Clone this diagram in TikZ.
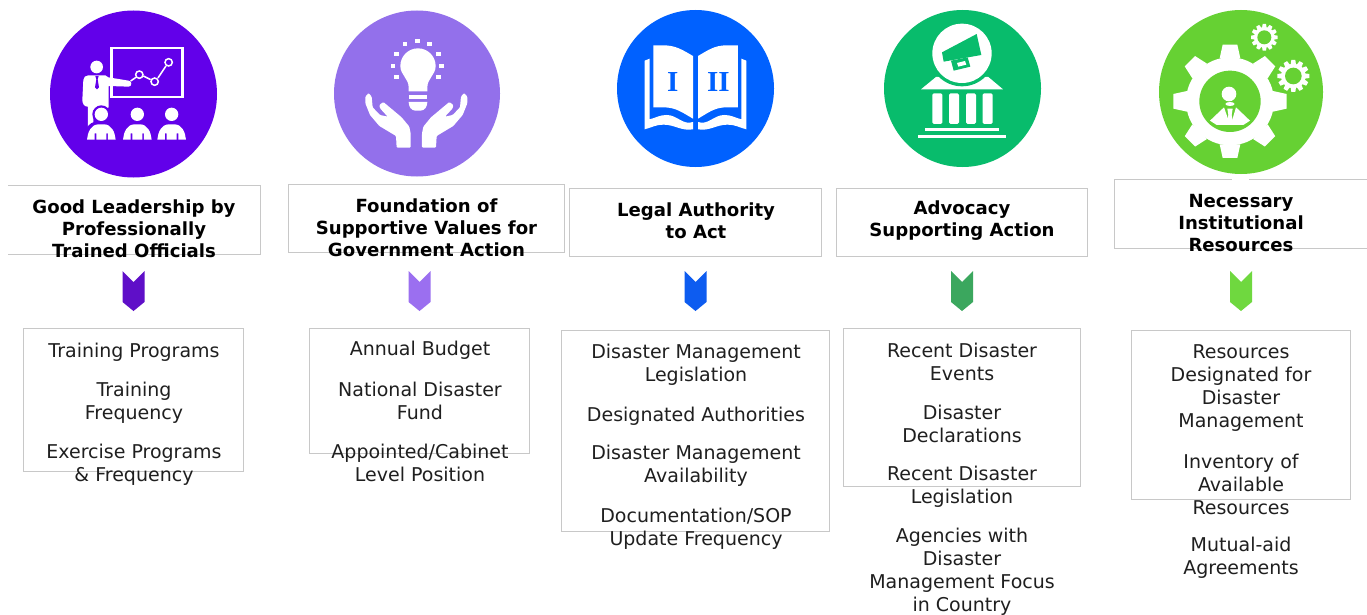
\documentclass[tikz,border=0pt]{standalone}
\usepackage{fontspec}
\setmainfont{DejaVu Sans}
\newfontfamily\romfont{Liberation Serif}
\definecolor{cA}{HTML}{6200EA}
\definecolor{cB}{HTML}{9370EB}
\definecolor{cC}{HTML}{0061FF}
\definecolor{cD}{HTML}{08BC6C}
\definecolor{cE}{HTML}{66D133}
\definecolor{chA}{HTML}{5F0FC8}
\definecolor{chB}{HTML}{9B6FF0}
\definecolor{chC}{HTML}{0D5CF0}
\definecolor{chD}{HTML}{3BA75E}
\definecolor{chE}{HTML}{6FD83F}
\definecolor{edgegray}{HTML}{C8C8C8}
\tikzset{
  headbox/.style={draw=edgegray,line width=0.9pt,fill=white},
  openbox/.style={draw=none,fill=white},
  edgeline/.style={draw=edgegray,line width=0.9pt},
  listbox/.style={draw=edgegray,line width=0.9pt,fill=white},
  headtext/.style={font=\fontsize{18.1}{22}\selectfont\bfseries,align=center,inner sep=0,text=black},
  itemtext/.style={font=\fontsize{19}{23}\selectfont,align=center,inner sep=0,text=black!88},
}
% chevron: #1 centre x, #2 colour
\newcommand{\chev}[2]{\fill[#2] (#1-11,271) -- (#1,282) -- (#1+11,271) -- (#1+11,302) -- (#1,311) -- (#1-11,302) -- cycle;}
% gear: #1 centre, #2 outer radius, #3 body radius, #4 hole radius, #5 teeth, #6 half width of tooth at tip, #7 half width at base, #8 hole colour
\newcommand{\mygear}[8]{%
  \fill[white] #1 circle (#3);
  \foreach \ga in {1,...,#5}{
    \fill[white,shift={#1},rotate=360/#5*\ga] (#7,{-(#3-3)}) -- (#6,-#2) -- (-#6,-#2) -- (-#7,{-(#3-3)}) -- cycle;
  }
  \fill[#8] #1 circle (#4);
}
\newcommand{\openhand}{\fill[white,rounded corners=1pt] (272,443) -- (230,443) -- (228,408) -- (178,378) -- (150,345) -- (136,310) -- (136,290) -- (146,279) -- (155,290) -- (158,322) -- (180,345) -- (203,350) -- (180,325) -- (178,315) -- (190,306) -- (245,352) -- (268,380) -- (272,400) -- cycle;}
\begin{document}
\begin{tikzpicture}[x=1pt,y=-1pt]
\useasboundingbox (0,0) rectangle (1367,615);
\fill[white] (0,0) rectangle (1367,615);

% circles
\node[circle,fill=cA,minimum size=167pt,inner sep=0] (circA) at (133.5,94) {};
\node[circle,fill=cB,minimum size=166pt,inner sep=0] (circB) at (417,93.5) {};
\node[circle,fill=cC,minimum size=157pt,inner sep=0] (circC) at (695.5,88.5) {};
\node[circle,fill=cD,minimum size=157pt,inner sep=0] (circD) at (962.5,88.5) {};
\node[circle,fill=cE,minimum size=164pt,inner sep=0] (circE) at (1241,92) {};

% icon 1
\begin{scope}[shift={(30,0)},x=0.3333pt,y=-0.3333pt]
  \draw[white,line width=2.6pt] (244,144) rectangle (457,291);
  \draw[white,line width=1.5pt] (302,243) -- (318,232) (340,228) -- (362,239) (384,234) -- (408,198);
  \draw[white,line width=1.5pt] (328,224) circle (11) (374,245) circle (11) (416,187) circle (11);
  \fill[white] (200,201) circle (19);
  \fill[white] (175,226) -- (226,226) -- (235,232) -- (296,242) to[out=0,in=0,looseness=1.5] (296,260) -- (236,258) -- (236,322) -- (190,345) -- (190,372) -- (174,385) -- (174,320) -- (172,320) to[out=180,in=-90] (157,300) -- (160,240) to[out=90,in=180] cycle;
  \fill[cA] (196,228) -- (206,228) -- (203,238) -- (207,262) -- (201,268) -- (195,262) -- (199,238) -- cycle;
  \foreach \hx in {214,322,425}{
    \fill[cA] (\hx,343) circle (27);
    \fill[cA] (\hx-50,425) -- (\hx-48,395) to[out=80,in=180] (\hx,362) to[out=0,in=100] (\hx+50,395) -- (\hx+50,425) -- cycle;
    \fill[white] (\hx,343) circle (20);
    \fill[white] (\hx-43,419) to[out=85,in=180] (\hx-8,373) -- (\hx+8,373) to[out=0,in=95] (\hx+43,419) -- (\hx+20,419) -- (\hx+20,400) -- (\hx+15,400) -- (\hx+15,419) -- (\hx-15,419) -- (\hx-15,400) -- (\hx-20,400) -- (\hx-20,419) -- cycle;
  }
\end{scope}

% icon 2
\begin{scope}[shift={(320,0)},x=0.3333pt,y=-0.3333pt]
  \fill[white] (294,145) to[out=180,in=90] (241,198) to[out=-90,in=90] (266,262) -- (266,274) -- (322,274) -- (322,262) to[out=90,in=-90] (347,198) to[out=90,in=0] cycle;
  \fill[white] (266,285) rectangle (322,296);
  \fill[white] (266,306) -- (322,306) to[out=-90,in=0] (302,332) -- (286,332) to[out=180,in=-90] cycle;
  \foreach \dx/\dy in {292/122,329/132,355/161,364/197,355/232,255/132,229/161,219/197,229/232}{
    \fill[white] (\dx-7,\dy-6) rectangle (\dx+7,\dy+6);
  }
  \openhand
  \begin{scope}[shift={(578,0)},xscale=-1]
    \openhand
  \end{scope}
\end{scope}

% icon 3
\begin{scope}[shift={(610,0)},x=0.3333pt,y=-0.3333pt]
  \fill[white] (130,136) -- (160,136) to[out=0,in=150] (249,168) -- (249,356) to[out=150,in=0] (160,322) -- (130,322) -- cycle;
  \fill[white] (264,168) to[out=30,in=180] (350,136) -- (384,136) -- (384,322) -- (350,322) to[out=180,in=30] (264,356) -- cycle;
  \fill[white] (104,182) -- (119,176) -- (119,358) to[out=15,in=180] (170,345) to[out=0,in=200] (249,366) -- (249,388) to[out=190,in=0] (160,374) to[out=180,in=15] (104,388) -- cycle;
  \fill[white] (409,182) -- (394,176) -- (394,358) to[out=165,in=0] (343,345) to[out=180,in=-20] (264,366) -- (264,388) to[out=-10,in=180] (353,374) to[out=0,in=165] (409,388) -- cycle;
  \node[inner sep=0,text=cC,font=\romfont\bfseries\fontsize{29}{29}\selectfont] (numI) at (188,245) {I};
  \node[inner sep=0,text=cC,font=\romfont\bfseries\fontsize{29}{29}\selectfont] (numII) at (325,245) {II};
\end{scope}

% icon 4
\begin{scope}[shift={(875,0)},x=0.3333pt,y=-0.3333pt]
  \fill[white] (138,268) -- (183,231) -- (340,231) -- (384,268) -- cycle;
  \fill[cD] (261,160) circle (99);
  \fill[white] (261,160) circle (89);
  \fill[cD] (201,157) -- (305,102) -- (319,165) -- (206,185) -- cycle;
  \fill[cD] (228,182) -- (278,172) -- (286,200) -- (236,212) -- cycle;
  \fill[white] (246,189) -- (270,183) -- (274,194) -- (250,200) -- cycle;
  \foreach \cx in {187,237,288,338}{
    \fill[white,rounded corners=1.5pt] (\cx-15,280) rectangle (\cx+15,372);
  }
  \fill[white] (150,384) rectangle (373,394);
  \fill[white] (130,405) rectangle (392,413);
\end{scope}

% icon 5
\begin{scope}[shift={(1150,0)},x=0.3333pt,y=-0.3333pt]
  \mygear{(240,304)}{170}{132}{92}{8}{22}{31}{cE}
  \fill[white] (237,282) circle (22);
  \fill[white] (240,312) ellipse (14 and 6);
  \begin{scope}
    \clip (240,304) circle (92);
    \fill[white] (180,362) -- (222,322) -- (236,362) -- (246,362) -- (258,322) -- (300,362) -- (280,375) -- (200,375) -- cycle;
    \fill[white] (232,326) -- (248,326) -- (245,345) -- (250,370) -- (230,370) -- (235,345) -- cycle;
  \end{scope}
  \mygear{(343,112)}{40}{31}{21}{12}{5}{7}{cE}
  \mygear{(430,228)}{48}{37}{25}{12}{6}{8}{cE}
\end{scope}

% heading boxes
\node[openbox,minimum width=251.5pt,minimum height=68.5pt,inner sep=0] (boxA) at (134,219.5) {};
\draw[edgeline] (boxA.north west) -- (boxA.north east) -- (boxA.south east) -- (boxA.south west);
\node[headbox,minimum width=276.5pt,minimum height=68.5pt,inner sep=0] (boxB) at (426.5,218.5) {};
\node[headbox,minimum width=252.5pt,minimum height=68.5pt,inner sep=0] (boxC) at (695.5,222.5) {};
\node[headbox,minimum width=251.5pt,minimum height=68.5pt,inner sep=0] (boxD) at (962,222.5) {};
\node[openbox,minimum width=252pt,minimum height=68.5pt,inner sep=0] (boxE) at (1241,213.5) {};
\draw[edgeline] (boxE.north east) -- (boxE.north west) -- (boxE.south west) -- (boxE.south east);
\fill[white] (1232,176) rectangle (1249,182);

\node[headtext] (headA) at (134,229) {Good Leadership by\\Professionally\\Trained Officials};
\node[headtext] (headB) at (426.5,228) {Foundation of\\Supportive Values for\\Government Action};
\node[headtext] (headC) at (696,220.5) {Legal Authority\\to Act};
\node[headtext] (headD) at (962,220.5) {Advocacy\\Supporting Action};
\node[headtext] (headE) at (1241,223.5) {Necessary\\Institutional\\Resources};

% chevrons
\chev{133.5}{chA}
\chev{419.5}{chB}
\chev{695.5}{chC}
\chev{962}{chD}
\chev{1241}{chE}

% list boxes
\node[listbox,minimum width=220.5pt,minimum height=143.5pt,inner sep=0] (listA) at (133.5,400) {};
\node[listbox,minimum width=220.5pt,minimum height=125.5pt,inner sep=0] (listB) at (419.5,391) {};
\node[listbox,minimum width=268.5pt,minimum height=201.5pt,inner sep=0] (listC) at (695.5,431) {};
\node[listbox,minimum width=237.5pt,minimum height=158.5pt,inner sep=0] (listD) at (962,407.5) {};
\node[listbox,minimum width=219.5pt,minimum height=169.5pt,inner sep=0] (listE) at (1241,415) {};

% items
\node[itemtext] (a1) at (134,352) {Training Programs};
\node[itemtext] (a2) at (134,403) {Training\\Frequency};
\node[itemtext] (a3) at (134,465) {Exercise Programs\\\& Frequency};

\node[itemtext] (b1) at (420,350) {Annual Budget};
\node[itemtext] (b2) at (420,401) {National Disaster\\Fund};
\node[itemtext] (b3) at (420,463) {Appointed/Cabinet\\Level Position};

\node[itemtext] (c1) at (696,365) {Disaster Management\\Legislation};
\node[itemtext] (c2) at (696,416) {Designated Authorities};
\node[itemtext] (c3) at (696,466) {Disaster Management\\Availability};
\node[itemtext] (c4) at (696,529) {Documentation/SOP\\Update Frequency};

\node[itemtext] (d1) at (962,362) {Recent Disaster\\Events};
\node[itemtext] (d2) at (962,424) {Disaster\\Declarations};
\node[itemtext] (d3) at (962,487) {Recent Disaster\\Legislation};
\node[itemtext] (d4) at (962,572) {Agencies with\\Disaster\\Management Focus\\in Country};

\node[itemtext] (e1) at (1241,388) {Resources\\Designated for\\Disaster\\Management};
\node[itemtext] (e2) at (1241,484) {Inventory of\\Available\\Resources};
\node[itemtext] (e3) at (1241,558) {Mutual-aid\\Agreements};
\end{tikzpicture}
\end{document}
